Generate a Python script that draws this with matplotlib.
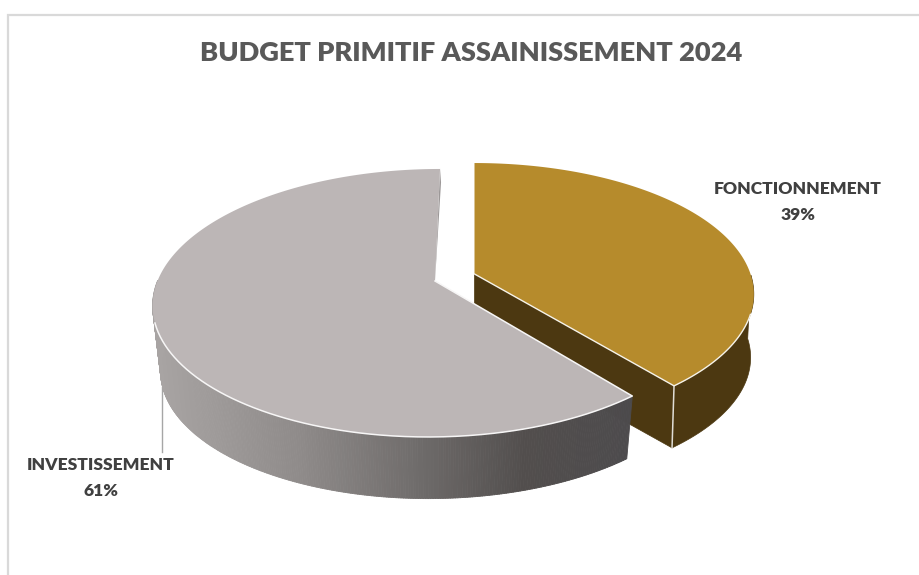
import numpy as np
import matplotlib
matplotlib.use("Agg")
import matplotlib.pyplot as plt
from matplotlib.collections import PolyCollection
from matplotlib.colors import LinearSegmentedColormap
from matplotlib.patches import Polygon

TITLE = "BUDGET PRIMITIF ASSAINISSEMENT 2024"
categories = ["FONCTIONNEMENT", "INVESTISSEMENT"]
values = [39, 61]
top_colors = ["#b68b2c", "#bcb6b6"]
wall_color = "#4c3811"

plt.rcParams["font.family"] = ["Lato", "DejaVu Sans"]
fig = plt.figure(figsize=(9.2, 5.75), dpi=100)
ax = fig.add_axes([0, 0, 1, 1])
ax.set_xlim(0, 920)
ax.set_ylim(575, 0)
ax.axis("off")

# frame of the chart area
ax.plot([8, 8, 920], [575, 15, 15], color="#d9d9d9", lw=1.6, solid_joinstyle="miter")

RIM = -0.3         # front rim highlight starts here (depth coordinate)


def project(theta, apex, A, B, K, shear, bottom=None):
    """theta: clockwise angle from 12 o'clock, radians."""
    wx, wy = np.sin(theta), np.cos(theta)
    w = 1 + K * wy
    dx = A * wx / w
    dy = -B * wy / w
    dx = dx - shear * dy
    if bottom is not None:
        scale, xs, depth = bottom
        return apex[0] + xs + scale * dx, apex[1] + scale * dy + depth
    return apex[0] + dx, apex[1] + dy


fractions = np.array(values, dtype=float) / sum(values)
edges = np.concatenate([[0], np.cumsum(fractions)]) * 2 * np.pi

# slice 0: FONCTIONNEMENT
apex0, geo0, bot0 = (474.5, 274), (276, 128, 0.1535, 0.0), (0.985, 1, 63.7)
th = np.linspace(edges[0], edges[1], 240)
tx, ty = project(th, apex0, *geo0)
bx, by = project(th, apex0, *geo0, bot0)
ex_t = (tx[-1], ty[-1])
ex_b = (bx[-1], by[-1])
ax.add_patch(Polygon([apex0, ex_t, ex_b, (apex0[0], apex0[1] + bot0[2])],
                     fc=wall_color, ec=wall_color, lw=0.5, zorder=2))
front = np.cos(th) < 0
ax.add_patch(Polygon(np.r_[np.c_[tx[front], ty[front]], np.c_[bx[front], by[front]][::-1]],
                     fc=wall_color, ec=wall_color, lw=0.5, zorder=2))
ax.plot([ex_t[0], ex_b[0]], [ex_t[1], ex_b[1]], color="#e0ddd6", lw=1.1, zorder=3)
ax.add_patch(Polygon(np.r_[[apex0], np.c_[tx, ty]], fc=top_colors[0],
                     ec="none", zorder=4))
mask = np.cos(th) < RIM
ax.plot(np.r_[apex0[0], ex_t[0], tx[mask][::-1]], np.r_[apex0[1], ex_t[1], ty[mask][::-1]],
        color="#f6f3ea", lw=1.0, zorder=4.5, solid_joinstyle="round")

# slice 1: INVESTISSEMENT
apex1, geo1, bot1 = (435, 281), (277.5, 130.4, 0.164, 0.045), (0.972, 0, 66)
th = np.linspace(edges[1], edges[2], 500)
tx, ty = project(th, apex1, *geo1)
bx, by = project(th, apex1, *geo1, bot1)
far = np.array([tx[-1], ty[-1]])
near_far = far + 0.12 * (np.array(apex1) - far) + [1.6, 0]
ax.add_patch(Polygon([apex1, far, near_far], fc="#9c9898", ec="none", zorder=5))
grad = LinearSegmentedColormap.from_list(
    "wall", [(0.0, "#a8a4a3"), (0.30, "#8f8b8a"), (0.55, "#6f6c6b"),
             (0.78, "#524e4d"), (1.0, "#4d4b4d")])
polys, cols = [], []
for i in range(len(th) - 1):
    if np.cos(th[i]) > 0:
        continue
    polys.append([(tx[i], ty[i]), (tx[i + 1], ty[i + 1]),
                  (bx[i + 1], by[i + 1]), (bx[i], by[i])])
    cols.append(grad(np.clip((tx[i] - 155) / (633 - 155), 0, 1)))
ax.add_collection(PolyCollection(polys, facecolors=cols, edgecolors=cols,
                                 linewidths=0.6, zorder=6))
ax.add_patch(Polygon(np.r_[[apex1], np.c_[tx, ty]], fc=top_colors[1],
                     ec="none", zorder=7))
mask = np.cos(th) < RIM
ax.plot(np.r_[apex1[0], tx[mask]], np.r_[apex1[1], ty[mask]],
        color="#f7f6f6", lw=1.1, zorder=7.5, solid_joinstyle="round")

# leader line + labels
ax.plot([162.5, 162.5], [387, 452], color="#a6a6a6", lw=1, zorder=5)
ax.text(471, 53, TITLE, ha="center", va="center", fontsize=19.6,
        fontweight="heavy", color="#595959")
ax.text(798, 202, f"{categories[0]}\n{values[0]}%", ha="center", va="center",
        fontsize=12.6, fontweight="heavy", color="#404040", linespacing=1.72)
ax.text(101, 478, f"{categories[1]}\n{values[1]}%", ha="center", va="center",
        fontsize=12.6, fontweight="heavy", color="#404040", linespacing=1.72)

fig.savefig("out.png", dpi=100, facecolor="white")
